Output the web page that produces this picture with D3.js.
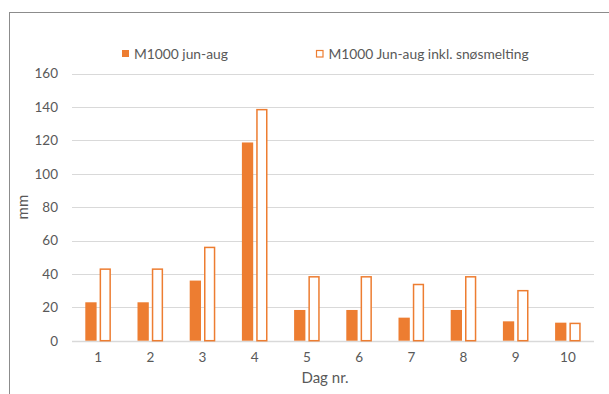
<!DOCTYPE html>
<html>
<head>
<meta charset="utf-8">
<script src="https://cdn.jsdelivr.net/npm/d3@7"></script>
<style>
  html, body { margin: 0; padding: 0; background: #fff; }
  svg { display: block; }
  text { font-family: Lato, "Open Sans", sans-serif; fill: #595959; }
</style>
</head>
<body>
<svg id="chart" width="609" height="394"></svg>
<script>
// Daily precipitation, day 1–10
const days = ["1", "2", "3", "4", "5", "6", "7", "8", "9", "10"];
const junAug = [23, 23, 36, 118.7, 18.4, 18.4, 13.8, 18.4, 11.6, 10.8];
const junAugSnow = [43.3, 43.3, 56.3, 138.8, 38.7, 38.7, 34.1, 38.7, 30.4, 10.8];
const yTicks = [0, 20, 40, 60, 80, 100, 120, 140, 160];
const seriesNames = ["M1000 jun-aug", "M1000 Jun-aug inkl. snøsmelting"];

const orange = "#ED7D31";
const svg = d3.select("#chart");

// outer chart frame
svg.append("rect")
  .attr("x", 9.5).attr("y", 12.5)
  .attr("width", 620).attr("height", 400)
  .attr("fill", "none").attr("stroke", "#8c8c8c").attr("stroke-width", 1);

const plot = { left: 72, right: 594, top: 73.5, bottom: 340.7 };

const x = d3.scaleBand().domain(days).range([plot.left, plot.right]);
const y = d3.scaleLinear().domain([0, 160]).range([plot.bottom, plot.top]);

// horizontal gridlines
svg.append("g").selectAll("line").data(yTicks).join("line")
  .attr("x1", plot.left).attr("x2", plot.right)
  .attr("y1", d => Math.round(y(d)) + 0.5).attr("y2", d => Math.round(y(d)) + 0.5)
  .attr("stroke", "#d9d9d9").attr("stroke-width", d => d === 0 ? 1.5 : 1);

// y axis labels
const yAxis = d3.axisLeft(y).tickValues(yTicks).tickSize(0).tickPadding(0);
const gy = svg.append("g").attr("transform", `translate(58,0)`).call(yAxis);
gy.select(".domain").remove();
gy.selectAll("text").attr("font-size", 13.5).attr("font-family", "Lato, sans-serif").attr("fill", "#595959");

// x axis labels
const xAxis = d3.axisBottom(x).tickSize(0).tickPadding(0);
const gx = svg.append("g").attr("transform", `translate(0,${plot.bottom + 12})`).call(xAxis);
gx.select(".domain").remove();
gx.selectAll("text").attr("font-size", 13.5).attr("font-family", "Lato, sans-serif").attr("fill", "#595959");

// bars
const barW = 11.3, gap = 3;
const center = d => x(d) + x.bandwidth() / 2;

svg.append("g").selectAll("rect").data(days).join("rect")
  .attr("x", d => center(d) - gap / 2 - barW)
  .attr("y", (d, i) => y(junAug[i]))
  .attr("width", barW)
  .attr("height", (d, i) => y(0) - y(junAug[i]))
  .attr("fill", orange);

svg.append("g").selectAll("rect").data(days).join("rect")
  .attr("x", d => center(d) + gap / 2 + 0.75)
  .attr("y", (d, i) => y(junAugSnow[i]) + 0.75)
  .attr("width", barW - 1.5)
  .attr("height", (d, i) => y(0) - y(junAugSnow[i]) - 0.75)
  .attr("fill", "#fff")
  .attr("stroke", orange).attr("stroke-width", 1.5);

// axis titles
svg.append("text")
  .attr("x", 325).attr("y", 383)
  .attr("text-anchor", "middle").attr("font-size", 15)
  .text("Dag nr.");

svg.append("text")
  .attr("transform", `translate(28,${(plot.top + plot.bottom) / 2}) rotate(-90)`)
  .attr("text-anchor", "middle").attr("font-size", 15)
  .text("mm");

// legend
const legend = svg.append("g");
legend.append("rect").attr("x", 122).attr("y", 50).attr("width", 7).attr("height", 7).attr("fill", orange);
legend.append("text").attr("x", 134).attr("y", 58.5).attr("font-size", 13.8).text(seriesNames[0]);
legend.append("rect").attr("x", 316.5).attr("y", 50.5).attr("width", 6.5).attr("height", 6.5)
  .attr("fill", "#fff").attr("stroke", orange).attr("stroke-width", 1.2);
legend.append("text").attr("x", 328.5).attr("y", 58.5).attr("font-size", 13.8).text(seriesNames[1]);
</script>
</body>
</html>
